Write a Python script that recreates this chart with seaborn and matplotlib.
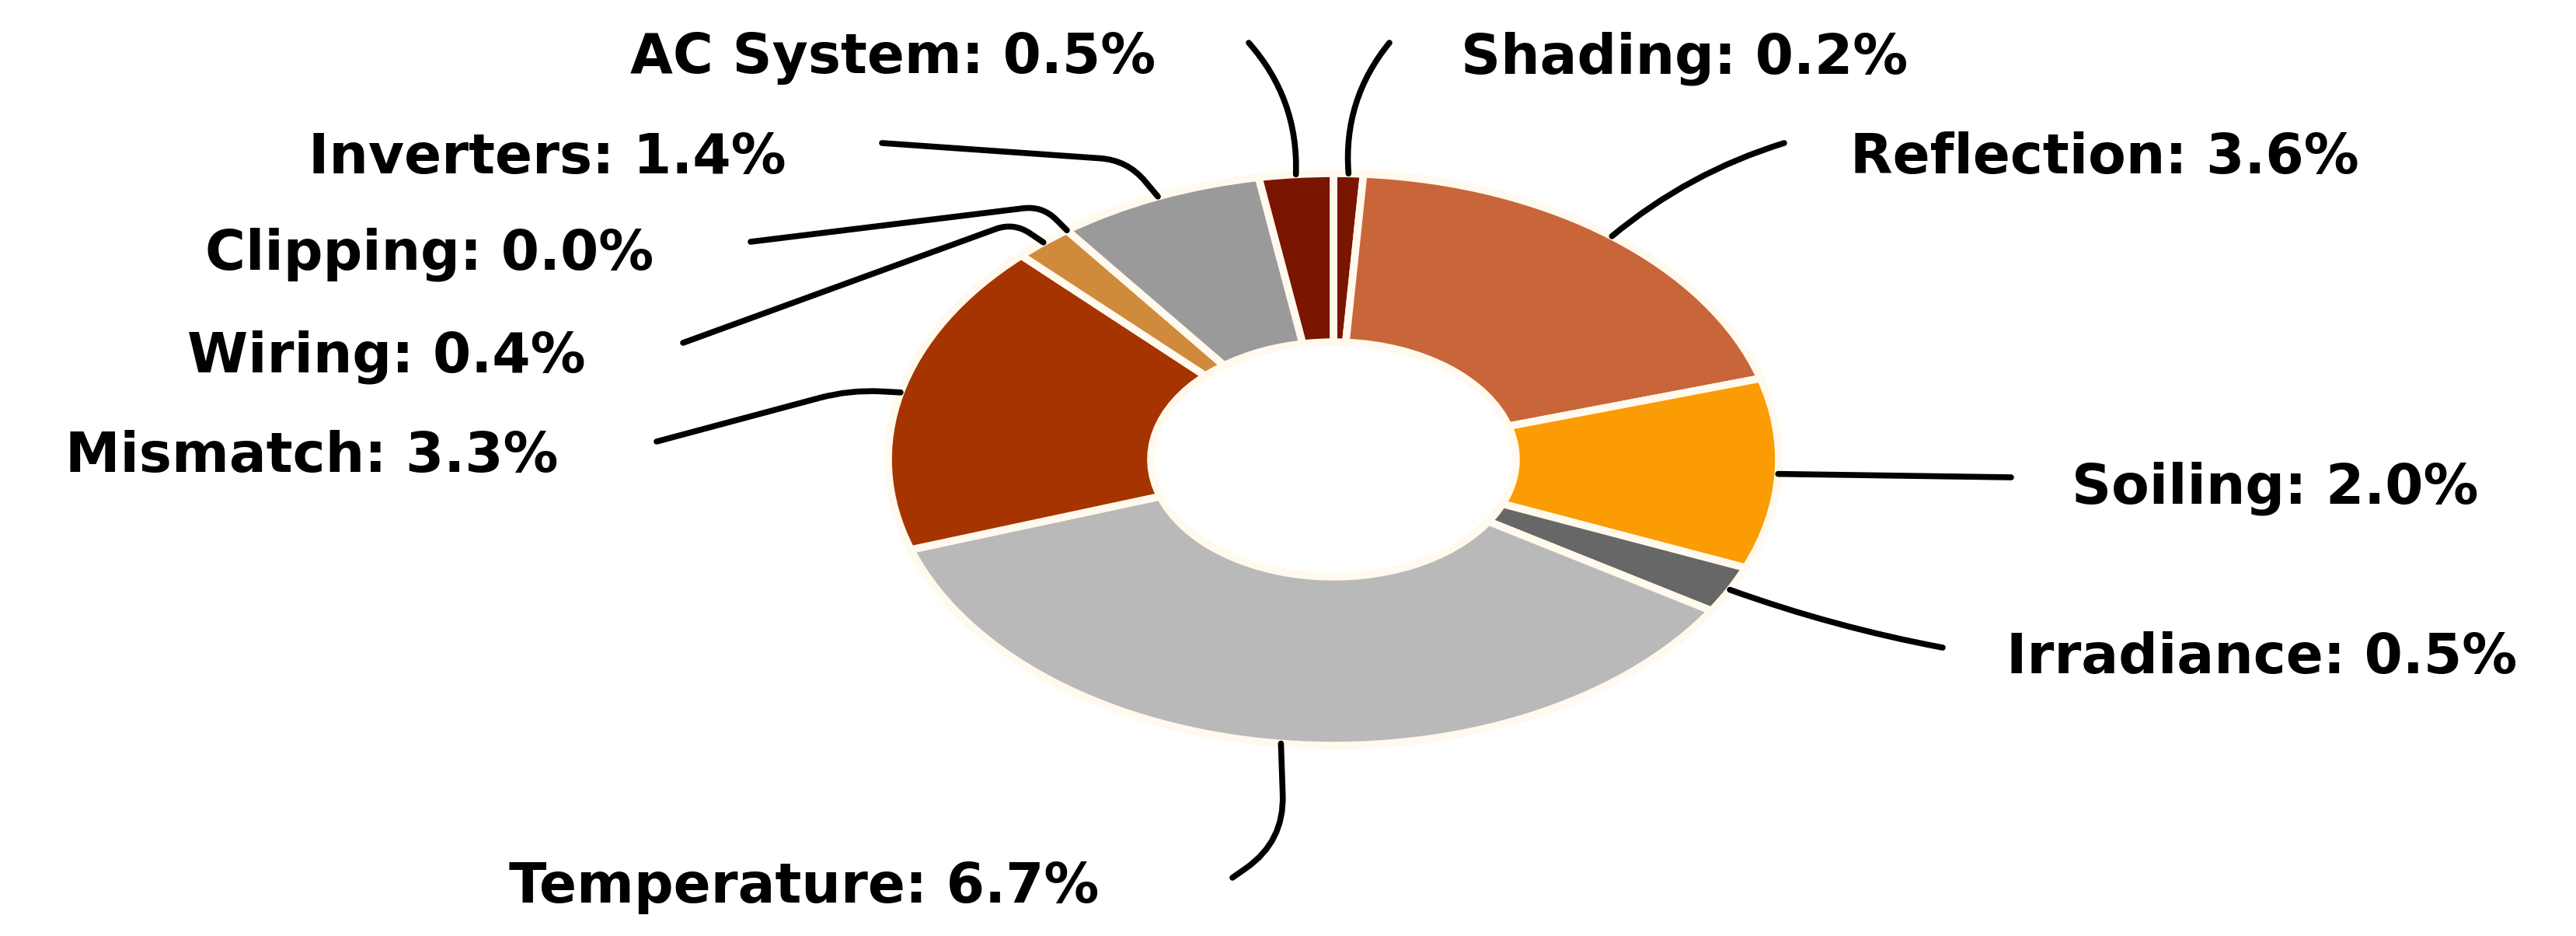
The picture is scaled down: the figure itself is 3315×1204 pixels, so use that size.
import numpy as np
import matplotlib
matplotlib.use('Agg')
import matplotlib.pyplot as plt
import seaborn as sns

# Loss breakdown (% of energy), clockwise from 12 o'clock
categories = ['Shading', 'Reflection', 'Soiling', 'Irradiance', 'Temperature',
              'Mismatch', 'Wiring', 'Clipping', 'Inverters', 'AC System']
losses = [0.2, 3.6, 2.0, 0.5, 6.7, 3.3, 0.4, 0.0, 1.4, 0.5]
colors = ['#7A1500', '#C8663A', '#FB9C04', '#676767', '#B9B9B9',
          '#A63400', '#D08A3C', '#999999', '#9A9A9A', '#7A1500']

sns.set_theme(style='white')
plt.rcParams['font.family'] = ['DejaVu Sans']

W, H = 3316, 1204
fig = plt.figure(figsize=(W / 100, H / 100), dpi=100)

# axes placed so the (stretched) donut sits where it does in the picture
ax = fig.add_axes([1143 / W, 1 - 959 / H, 1146 / W, 736 / H])
wedges, _ = ax.pie(losses, colors=colors, startangle=90, counterclock=False,
                   radius=1,
                   wedgeprops=dict(width=0.59, edgecolor='#FFF9EE',
                                   linewidth=7))
ax.set_aspect('auto')
ax.set_xlim(-1, 1)
ax.set_ylim(-1, 1)
ax.axis('off')


def fig_xy(px, py):
    # pixel position (origin top-left) -> figure fraction
    return px / W, 1 - py / H


# label layout: text x, baseline y, alignment, leader start, connection style
layout = {
    'Shading':     (1880, 94, 'left', (1788, 55), 'arc3,rad=0.2'),
    'Reflection':  (2381, 223, 'left', (2296, 184), 'arc3,rad=0.1'),
    'Soiling':     (2666, 647, 'left', (2588, 614), 'arc3,rad=0'),
    'Irradiance':  (2582, 866, 'left', (2500, 833), 'arc3,rad=-0.04'),
    'Temperature': (1035, 1161, 'center', (1586, 1129),
                    'angle,angleA=35,angleB=92,rad=60'),
    'Mismatch':    (718, 607, 'right', (845, 568),
                    'angle,angleA=15,angleB=-3,rad=40'),
    'Wiring':      (754, 478, 'right', (879, 441),
                    'angle,angleA=20,angleB=-34,rad=25'),
    'Clipping':    (841, 347, 'right', (966, 311),
                    'angle,angleA=7,angleB=-45,rad=25'),
    'Inverters':   (1012, 223, 'right', (1135, 184),
                    'angle,angleA=-4,angleB=-50,rad=35'),
    'AC System':   (1487, 94, 'right', (1607, 55), 'arc3,rad=-0.2'),
}

for w, name, val in zip(wedges, categories, losses):
    mid = np.deg2rad((w.theta1 + w.theta2) / 2)
    anchor = (np.cos(mid), np.sin(mid))
    tx, ty, ha, start, conn = layout[name]
    ax.annotate('', xy=anchor, xycoords='data',
                xytext=fig_xy(*start), textcoords='figure fraction',
                arrowprops=dict(arrowstyle='-', color='black', lw=5.5,
                                shrinkA=0, shrinkB=0, connectionstyle=conn))
    fx, fy = fig_xy(tx, ty)
    fig.text(fx, fy, f'{name}: {val:.1f}%', ha=ha, va='baseline',
             fontsize=51, fontweight='bold', color='black')

fig.savefig('out.png', dpi=100, facecolor='white')
